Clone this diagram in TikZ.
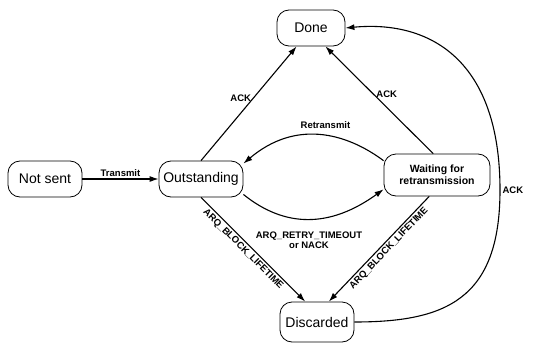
\documentclass[tikz,border=0pt]{standalone}
\usepackage{fontspec}
\setmainfont{Liberation Sans}
\usetikzlibrary{arrows.meta}
\begin{document}
\begin{tikzpicture}[x=1pt, y=-1pt,
    state/.style={draw, rounded corners=12pt, inner sep=2pt, minimum height=36pt, line width=0.8pt, align=center, font=\fontsize{14}{15}\selectfont},
    trans/.style={-{Latex[length=9pt,width=6pt]}, line width=1.1pt},
    lbl/.style={font=\bfseries\fontsize{9.5}{10.5}\selectfont, align=center, inner sep=2pt}]
    \useasboundingbox (0,0) rectangle (546,353);

    \node (done) at (311,28) [state, minimum width=68pt] {Done};
    \node (notsent) at (45,179) [state, minimum width=74pt] {Not sent};
    \node (outst) at (201,179) [state, minimum width=84pt] {Outstanding};
    \node (waiting) at (437,175) [state, minimum width=106pt, minimum height=42pt, font=\bfseries\fontsize{10.5}{12}\selectfont] {Waiting for\\retransmission};
    \node (discarded) at (317,322) [state, minimum width=74pt, minimum height=40pt] {Discarded};

    \draw[trans] (notsent) -- node[lbl, above] {Transmit} (outst);
    \draw[trans] (outst.north) -- node[lbl, left, pos=0.55] {ACK} (done.232);
    \draw[trans] (waiting.100) -- node[lbl, right, pos=0.55] {ACK} (done.308);
    \draw[trans] (waiting.165) .. controls (345,132) and (295,120) .. node[lbl, above=4pt, pos=0.45] {Retransmit} (outst.20);
    \draw[trans] (outst.-20) .. controls (285,228) and (330,228) .. node[lbl, below=10pt] {ARQ\_RETRY\_TIMEOUT\\or NACK} (waiting.195);
    \draw[trans] (outst.south) -- node[lbl, sloped, below, pos=0.45] {ARQ\_BLOCK\_LIFETIME} (discarded.120);
    \draw[trans] (waiting.250) -- node[lbl, sloped, below, pos=0.45] {ARQ\_BLOCK\_LIFETIME} (discarded.60);
    \draw[trans] (discarded.east) .. controls (445,322) and (500,300) .. (500,190) node[lbl, right] {ACK}
        .. controls (500,60) and (430,20) .. (done.east);
\end{tikzpicture}
\end{document}
